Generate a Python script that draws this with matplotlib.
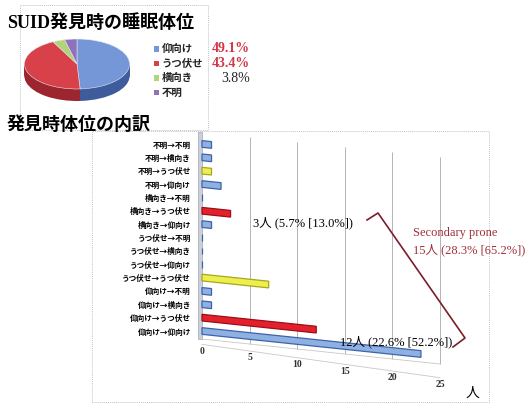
import numpy as np
import matplotlib
matplotlib.use('Agg')
import matplotlib.pyplot as plt
import matplotlib.transforms as mtransforms
from matplotlib.patches import Rectangle
from matplotlib.lines import Line2D

plt.rcParams['font.family'] = ['Noto Sans CJK JP', 'DejaVu Sans']
SERIF = ['Liberation Serif', 'Noto Sans CJK JP']

#######################################################
# data

# position at discovery (pie)
pie_labels = ['仰向け', 'うつ伏せ', '横向き', '不明']
pie_counts = [26, 23, 2, 2]

# placed position -> found position (bars), listed bottom to top
pair_labels = ['仰向け→仰向け', '仰向け→うつ伏せ', '仰向け→横向き', '仰向け→不明',
               'うつ伏せ→うつ伏せ', 'うつ伏せ→仰向け', 'うつ伏せ→横向き', 'うつ伏せ→不明',
               '横向き→仰向け', '横向き→うつ伏せ', '横向き→不明',
               '不明→仰向け', '不明→うつ伏せ', '不明→横向き', '不明→不明']
pair_counts = [23, 12, 1, 1, 7, 0, 0, 0, 1, 3, 0, 2, 1, 1, 1]
pair_kind = ['other', 'secondary', 'other', 'other', 'prone', 'other', 'other', 'other',
             'other', 'secondary', 'other', 'other', 'prone', 'other', 'other']

x_ticks = [0, 5, 10, 15, 20, 25]

#######################################################
# layout helpers (pixel positions on a 530x407 canvas)

W, H = 530, 407
def fx(px):
    return px / W
def fy(py):
    return 1 - py / H

fig = plt.figure(figsize=(W / 100, H / 100), dpi=100)
fig.patch.set_facecolor('white')

# dotted frames around the two panels
for (x1, y1, x2, y2) in [(20, 5, 208, 130), (92, 131, 489, 402)]:
    fig.add_artist(Rectangle((fx(x1), fy(y2)), fx(x2) - fx(x1), fy(y1) - fy(y2),
                             transform=fig.transFigure, fill=False,
                             edgecolor='#c4c4c4', linewidth=0.7, linestyle=(0, (1, 1))))

#######################################################
# pie (fake 3D: stack of darker pies below the top face)

pie_top = ['#7597d8', '#d8404a', '#b2d478', '#8e72bc']
pie_side = ['#3e5c9c', '#9c2630', '#7c9a48', '#5e468c']

cx, cy, rx, ry = 77, 64, 52.5, 25
ax_pie = fig.add_axes([fx(cx - 1.1 * rx), fy(cy + 1.6 * ry), 2.2 * rx / W, 2.7 * ry / H])
for dy in np.linspace(-0.48, 0, 16)[:-1]:
    ax_pie.pie(pie_counts, colors=pie_side, startangle=90, counterclock=False,
               center=(0, dy), wedgeprops=dict(linewidth=0))
wedges, _ = ax_pie.pie(pie_counts, colors=pie_top, startangle=90, counterclock=False,
                       wedgeprops=dict(linewidth=0.4, edgecolor='#e8e8f0'))
ax_pie.set_aspect('auto')
ax_pie.set_xlim(-1.1, 1.1)
ax_pie.set_ylim(-1.6, 1.1)
ax_pie.axis('off')

fig.text(fx(7), fy(23), 'SUID発見時の睡眠体位', family=SERIF, fontsize=13,
         fontweight='bold', va='center', ha='left')
fig.text(fx(7), fy(125), '発見時体位の内訳', family=SERIF, fontsize=13,
         fontweight='bold', va='center', ha='left')

# legend with percentages
total = sum(pie_counts)
pct_colors = ['#d03848', '#d03848', '#222222']
for i, lab in enumerate(pie_labels):
    yy = 49 + 14.5 * i
    fig.add_artist(Rectangle((fx(154), fy(yy + 2.5)), 5 / W, 5 / H, transform=fig.transFigure,
                             facecolor=pie_top[i], edgecolor='none'))
    fig.text(fx(162), fy(yy), lab, fontsize=7.5, fontweight='bold', va='center',
             ha='left', color='#222222')
    if i < 3:
        fig.text(fx(250), fy(yy), '%.1f%%' % (100.0 * pie_counts[i] / total), family=SERIF,
                 fontsize=10, fontweight='bold' if i < 2 else 'normal',
                 color=pct_colors[i], va='center', ha='right')

#######################################################
# horizontal bars (sheared to mimic the 3D perspective)

row_px = 13.36
row0_y = 331
top_d, bot_d = 14.9, -2.2
px_per_x = 238 / 25.0
ax = fig.add_axes([fx(202), fy(row0_y - row_px * bot_d),
                   238 / W, row_px * (top_d - bot_d) / H])
ax.set_xlim(0, 25)
ax.set_ylim(bot_d, top_d)

k_back = 0.105 * px_per_x / row_px
k_front = 0.14 * px_per_x / row_px
shear_back = mtransforms.Affine2D().skew(0, np.arctan(-k_back)) + ax.transData
shear_front = mtransforms.Affine2D().skew(0, np.arctan(-k_front)) + ax.transData

# back wall gridlines and floor
ax.vlines(x_ticks[1:], -0.6, top_d, colors='#b4b4b4', linewidth=0.7,
          transform=shear_back, clip_on=False)
ax.plot([0, 25], [-0.6, -0.6], color='#c8c8c8', linewidth=0.6,
        transform=shear_back, clip_on=False)
ax.plot([0, 25], [-1.0, -1.0], color='#c8c8c8', linewidth=0.6,
        transform=shear_front, clip_on=False)
ax.add_patch(Rectangle((-0.45, -0.6), 0.45, top_d + 0.6, facecolor='#ccd0d8',
                       edgecolor='#a0a6b4', linewidth=0.5, clip_on=False))

face = {'other': '#8fb0e2', 'secondary': '#e4202c', 'prone': '#eef04a'}
edge = {'other': '#3c64a8', 'secondary': '#9a1018', 'prone': '#a6a624'}
rows = np.arange(len(pair_labels))
ax.barh(rows, pair_counts, height=0.5,
        color=[face[k] for k in pair_kind],
        edgecolor=[edge[k] for k in pair_kind], linewidth=0.9,
        transform=shear_back, clip_on=False, zorder=3)

ax.set_yticks(rows, pair_labels)
ax.tick_params(axis='y', length=0, pad=8, labelsize=5.5)
for t in ax.get_yticklabels():
    t.set_fontweight('bold')
ax.set_xticks([])
for s in ax.spines.values():
    s.set_visible(False)
ax.patch.set_visible(False)

for v in x_ticks:
    ax.text(v, -1.5, str(v), transform=shear_front, family=SERIF, fontsize=7,
            fontweight='bold', ha='center', va='center', color='#333333')
fig.text(fx(473), fy(393), '人', fontsize=10, ha='center', va='center')

#######################################################
# annotations for the secondary prone group
# (share of all cases, and [share of cases found prone])

sec = [c for c, k in zip(pair_counts, pair_kind) if k == 'secondary']
n_prone = pie_counts[1]
def share(n):
    return '%d人 (%.1f%% [%.1f%%])' % (n, 100.0 * n / total, 100.0 * n / n_prone)

fig.text(fx(253), fy(223), share(sec[1]), family=SERIF, fontsize=9, ha='left', va='center')
fig.text(fx(340), fy(342), share(sec[0]), family=SERIF, fontsize=9, ha='left', va='center')
fig.text(fx(413), fy(233), 'Secondary prone', family=SERIF, fontsize=9,
         color='#a0303a', ha='left', va='center')
fig.text(fx(413), fy(250), share(sum(sec)), family=SERIF, fontsize=9,
         color='#a0303a', ha='left', va='center')

bx = [367, 378, 465, 453]
by = [220, 213, 338, 347]
fig.add_artist(Line2D([fx(p) for p in bx], [fy(p) for p in by], transform=fig.transFigure,
                      color='#7a1f2a', linewidth=1.2))

plt.savefig('out.png', dpi=100)
plt.close()
